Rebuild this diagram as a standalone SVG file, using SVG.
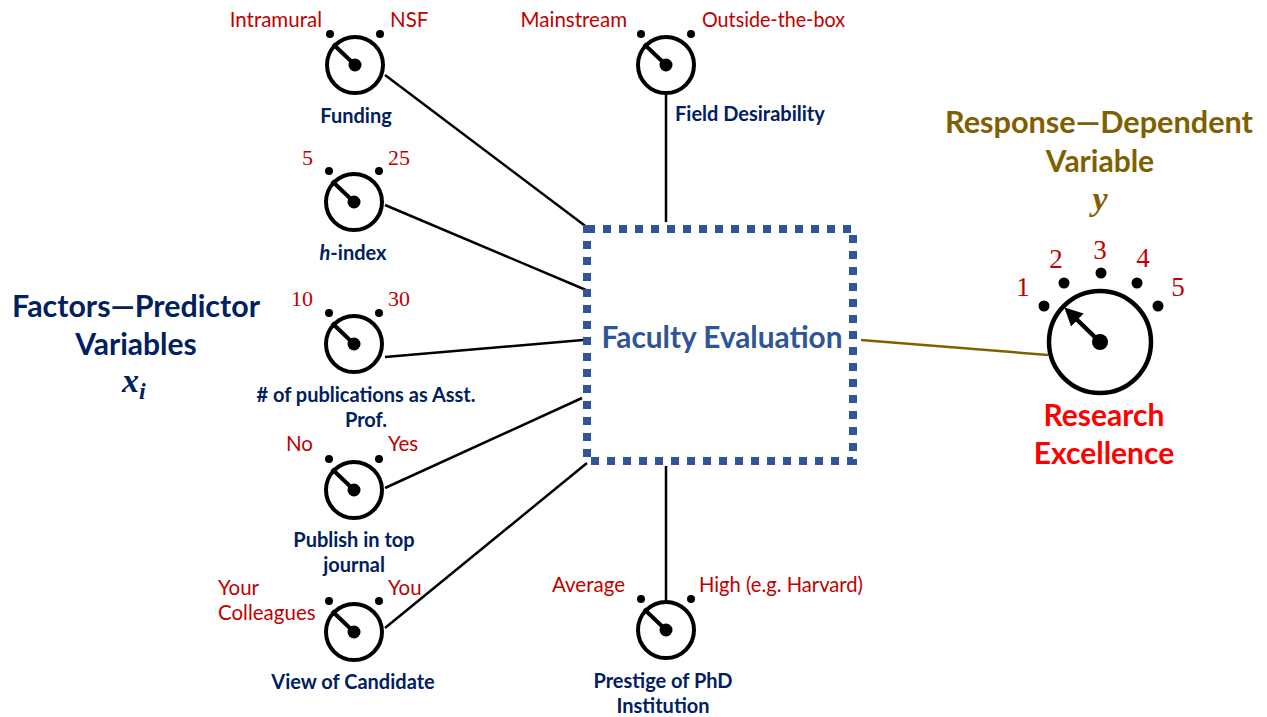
<svg xmlns="http://www.w3.org/2000/svg" xmlns:xlink="http://www.w3.org/1999/xlink" width="1267" height="717" viewBox="0 0 1267 717">
<style>
.lbl{font-family:Lato,"Open Sans","Liberation Sans",sans-serif;font-size:20.5px;fill:#C00000}
.num{font-family:"Liberation Serif","DejaVu Serif",serif;font-size:22px;fill:#C00000}
.rnum{font-family:"Liberation Serif","DejaVu Serif",serif;font-size:27px;fill:#C00000;text-anchor:middle}
.name{font-family:Lato,"Open Sans","Liberation Sans",sans-serif;font-size:20px;font-weight:bold;fill:#002060;text-anchor:middle}
.big{font-family:Lato,"Open Sans","Liberation Sans",sans-serif;font-size:30px;font-weight:bold;text-anchor:middle}
.math{font-family:"Liberation Serif","DejaVu Serif",serif;font-style:italic;font-weight:bold;font-size:34px}
.conn{stroke:#000;stroke-width:2.5;fill:none}
.end{text-anchor:end}
</style>
<defs>
<g id="dial">
<circle r="28" fill="#fff" stroke="#000" stroke-width="4"/>
<circle cx="-25" cy="-31" r="4" fill="#000"/>
<circle cx="25" cy="-31" r="4" fill="#000"/>
<line x1="0" y1="0" x2="-22" y2="-21" stroke="#000" stroke-width="4"/>
<circle r="6.5" fill="#000"/>
</g>
<marker id="arr" viewBox="0 0 10 10" refX="8" refY="5" markerWidth="4" markerHeight="4" orient="auto">
<path d="M0,0 L10,5 L0,10 z" fill="#000"/>
</marker>
</defs>
<rect width="1267" height="717" fill="#fff"/>

<g id="connectors">
<line class="conn" x1="385" y1="75" x2="588" y2="228"/>
<line class="conn" x1="385" y1="205" x2="586" y2="290"/>
<line class="conn" x1="385" y1="357" x2="583" y2="340"/>
<line class="conn" x1="385" y1="488" x2="582" y2="398"/>
<line class="conn" x1="385" y1="628" x2="587" y2="463"/>
<line class="conn" x1="666" y1="93" x2="666" y2="222"/>
<line class="conn" x1="666" y1="466" x2="666" y2="602"/>
<line x1="861" y1="340" x2="1048" y2="355" stroke="#7F6000" stroke-width="2.5"/>
</g>

<g id="box">
<rect x="587" y="229" width="266" height="232" fill="none" stroke="#2F5597" stroke-width="8" stroke-dasharray="8 8"/>
<text x="722" y="348" class="big" textLength="241" lengthAdjust="spacingAndGlyphs" style="fill:#2F5597;font-size:31px">Faculty Evaluation</text>
</g>

<g id="funding">
<use xlink:href="#dial" href="#dial" transform="translate(355,65)"/>
<text x="322" y="27" class="lbl end">Intramural</text>
<text x="390" y="27" class="lbl">NSF</text>
<text x="356" y="123" class="name">Funding</text>
</g>

<g id="field">
<use xlink:href="#dial" href="#dial" transform="translate(666,65)"/>
<text x="627" y="27" class="lbl end">Mainstream</text>
<text x="702" y="27" class="lbl" textLength="143" lengthAdjust="spacingAndGlyphs">Outside-the-box</text>
<text x="675" y="121" class="name" style="text-anchor:start">Field Desirability</text>
</g>

<g id="hindex">
<use xlink:href="#dial" href="#dial" transform="translate(354,202)"/>
<text x="313" y="165" class="num end">5</text>
<text x="388" y="165" class="num">25</text>
<text x="353" y="260" class="name"><tspan font-style="italic">h</tspan>-index</text>
</g>

<g id="pubs">
<use xlink:href="#dial" href="#dial" transform="translate(354,344)"/>
<text x="313" y="306" class="num end">10</text>
<text x="388" y="306" class="num">30</text>
<text x="366" y="402" class="name"># of publications as Asst.</text>
<text x="366" y="427" class="name">Prof.</text>
</g>

<g id="publish">
<use xlink:href="#dial" href="#dial" transform="translate(354,490)"/>
<text x="313" y="451" class="lbl end">No</text>
<text x="388" y="451" class="lbl">Yes</text>
<text x="354" y="547" class="name">Publish in top</text>
<text x="354" y="572" class="name">journal</text>
</g>

<g id="view">
<use xlink:href="#dial" href="#dial" transform="translate(354,632)"/>
<text x="218" y="595" class="lbl">Your</text>
<text x="218" y="620" class="lbl">Colleagues</text>
<text x="388" y="595" class="lbl">You</text>
<text x="353" y="689" class="name">View of Candidate</text>
</g>

<g id="prestige">
<use xlink:href="#dial" href="#dial" transform="translate(666,630)"/>
<text x="625" y="592" class="lbl end">Average</text>
<text x="699" y="592" class="lbl" textLength="164" lengthAdjust="spacingAndGlyphs">High (e.g. Harvard)</text>
<text x="663" y="688" class="name">Prestige of PhD</text>
<text x="663" y="713" class="name">Institution</text>
</g>

<g id="predictors">
<text x="136" y="317" class="big" style="fill:#002060" textLength="248" lengthAdjust="spacingAndGlyphs">Factors—Predictor</text>
<text x="136" y="355" class="big" style="fill:#002060">Variables</text>
<text x="122" y="392" class="math" fill="#002060">x<tspan font-size="24" dy="7">i</tspan></text>
</g>

<g id="response">
<text x="1099" y="133" class="big" style="fill:#7F6000" textLength="308" lengthAdjust="spacingAndGlyphs">Response—Dependent</text>
<text x="1100" y="172" class="big" style="fill:#7F6000">Variable</text>
<text x="1100" y="210" class="math" fill="#7F6000" text-anchor="middle">y</text>
<circle cx="1100" cy="342" r="51" fill="#fff" stroke="#000" stroke-width="4.5"/>
<circle cx="1044" cy="306" r="5.5" fill="#000"/>
<circle cx="1064" cy="283" r="5.5" fill="#000"/>
<circle cx="1101" cy="273" r="5.5" fill="#000"/>
<circle cx="1137" cy="283" r="5.5" fill="#000"/>
<circle cx="1158" cy="306" r="5.5" fill="#000"/>
<line x1="1100" y1="342" x2="1067" y2="310" stroke="#000" stroke-width="4.5" marker-end="url(#arr)"/>
<circle cx="1100" cy="342" r="8" fill="#000"/>
<text x="1023" y="296" class="rnum">1</text>
<text x="1056" y="268" class="rnum">2</text>
<text x="1100" y="259" class="rnum">3</text>
<text x="1143" y="267" class="rnum">4</text>
<text x="1178" y="296" class="rnum">5</text>
<text x="1104" y="426" class="big" style="fill:#FF0000">Research</text>
<text x="1104" y="464" class="big" style="fill:#FF0000">Excellence</text>
</g>
</svg>
